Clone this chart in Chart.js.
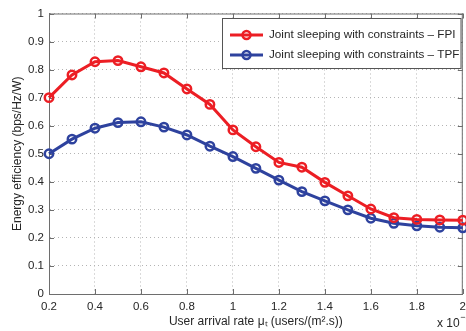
<!DOCTYPE html>
<html>
<head>
<meta charset="utf-8">
<title>Energy efficiency vs user arrival rate</title>
<script src="https://cdn.jsdelivr.net/npm/chart.js@4.4.1/dist/chart.umd.min.js"></script>
<style>
  html, body { margin: 0; padding: 0; background: #fff; overflow: hidden; width: 466px; height: 331px; }
  #wrap { width: 472px; height: 331px; }
</style>
</head>
<body>
<div id="wrap"><canvas id="c" width="472" height="331"></canvas></div>
<script>
// User arrival rate (x 10^-3 users/(m^2.s))
const arrivalRate = [0.2, 0.3, 0.4, 0.5, 0.6, 0.7, 0.8, 0.9, 1.0, 1.1, 1.2, 1.3, 1.4, 1.5, 1.6, 1.7, 1.8, 1.9, 2.0];
// Energy efficiency (bps/Hz/W)
const eeFPI = [0.700, 0.781, 0.828, 0.832, 0.810, 0.788, 0.731, 0.676, 0.585, 0.525, 0.469, 0.452, 0.398, 0.350, 0.303, 0.272, 0.266, 0.264, 0.263];
const eeTPF = [0.500, 0.552, 0.591, 0.611, 0.614, 0.595, 0.567, 0.527, 0.490, 0.448, 0.406, 0.365, 0.332, 0.300, 0.270, 0.252, 0.243, 0.238, 0.236];

const seriesNames = ['Joint sleeping with constraints \u2013 FPI', 'Joint sleeping with constraints \u2013 TPF'];
const seriesColors = ['rgb(236,30,36)', 'rgb(46,66,158)'];

const xTickValues = [0.2, 0.4, 0.6, 0.8, 1.0, 1.2, 1.4, 1.6, 1.8, 2.0];
const xTickLabels = ['0.2', '0.4', '0.6', '0.8', '1', '1.2', '1.4', '1.6', '1.8', '2'];
const yTickValues = [0, 0.1, 0.2, 0.3, 0.4, 0.5, 0.6, 0.7, 0.8, 0.9, 1.0];
const yTickLabels = ['0', '0.1', '0.2', '0.3', '0.4', '0.5', '0.6', '0.7', '0.8', '0.9', '1'];

const xTitle = 'User arrival rate \u03bc\u209c (users/(m\u00b2.s))';
const yTitle = 'Energy efficiency (bps/Hz/W)';

const FONT = "'Liberation Sans', Arial, Helvetica, sans-serif";
const TEXT = '#262626';
const AXIS = '#6e6e6e';

function toPoints(ys) {
  return ys.map((y, i) => ({ x: arrivalRate[i], y }));
}

// Inward tick marks on all four sides plus the top/right frame lines
const frameTicks = {
  id: 'frameTicks',
  beforeDatasetsDraw(chart) {
    const { ctx, chartArea: a, scales: { x, y } } = chart;
    const len = 5;
    ctx.save();
    ctx.strokeStyle = AXIS;
    ctx.lineWidth = 1;
    ctx.beginPath();
    ctx.moveTo(a.left, a.top + 0.5);
    ctx.lineTo(a.right, a.top + 0.5);
    ctx.moveTo(a.right - 0.5, a.top);
    ctx.lineTo(a.right - 0.5, a.bottom);
    xTickValues.forEach(v => {
      const px = Math.round(x.getPixelForValue(v)) + 0.5;
      ctx.moveTo(px, a.bottom); ctx.lineTo(px, a.bottom - len);
      ctx.moveTo(px, a.top); ctx.lineTo(px, a.top + len);
    });
    yTickValues.forEach(v => {
      const py = Math.round(y.getPixelForValue(v)) + 0.5;
      ctx.moveTo(a.left, py); ctx.lineTo(a.left + len, py);
      ctx.moveTo(a.right, py); ctx.lineTo(a.right - len, py);
    });
    ctx.stroke();
    ctx.restore();
  }
};

// Boxed legend with line + marker samples, and the axis multiplier
const boxLegend = {
  id: 'boxLegend',
  afterDraw(chart) {
    const { ctx } = chart;
    const bx = 222.5, by = 18.5, bw = 238.5, bh = 50;
    ctx.save();
    ctx.fillStyle = '#fff';
    ctx.fillRect(bx, by, bw, bh);
    ctx.strokeStyle = '#555';
    ctx.lineWidth = 1;
    ctx.strokeRect(bx, by, bw, bh);
    chart.data.datasets.forEach((ds, i) => {
      const cy = 35 + i * 20;
      ctx.strokeStyle = ds.borderColor;
      ctx.lineWidth = 3;
      ctx.beginPath();
      ctx.moveTo(230, cy); ctx.lineTo(263, cy);
      ctx.stroke();
      ctx.lineWidth = 2.5;
      ctx.beginPath();
      ctx.arc(246.5, cy, 4, 0, Math.PI * 2);
      ctx.stroke();
      ctx.fillStyle = TEXT;
      ctx.font = '11.7px ' + FONT;
      ctx.textBaseline = 'middle';
      ctx.textAlign = 'left';
      ctx.fillText(ds.label, 269, cy);
    });
    // x 10^-3 multiplier
    ctx.fillStyle = TEXT;
    ctx.textBaseline = 'alphabetic';
    ctx.font = '12px ' + FONT;
    ctx.fillText('x 10', 437, 327);
    const w = ctx.measureText('x 10').width;
    ctx.font = '9px ' + FONT;
    ctx.fillText('\u22123', 437 + w + 0.5, 320);
    ctx.restore();
  }
};

new Chart(document.getElementById('c'), {
  type: 'line',
  data: {
    datasets: [
      {
        label: seriesNames[0],
        data: toPoints(eeFPI),
        borderColor: seriesColors[0],
        backgroundColor: seriesColors[0],
        pointBorderColor: seriesColors[0],
        pointBackgroundColor: 'rgba(255,255,255,0)',
        borderWidth: 3,
        pointRadius: 4.2,
        pointBorderWidth: 2.5,
        tension: 0,
        clip: false
      },
      {
        label: seriesNames[1],
        data: toPoints(eeTPF),
        borderColor: seriesColors[1],
        backgroundColor: seriesColors[1],
        pointBorderColor: seriesColors[1],
        pointBackgroundColor: 'rgba(255,255,255,0)',
        borderWidth: 3,
        pointRadius: 4.2,
        pointBorderWidth: 2.5,
        tension: 0,
        clip: false
      }
    ]
  },
  options: {
    responsive: false,
    animation: false,
    devicePixelRatio: 1,
    layout: { padding: { top: 13.5, right: 4.5, left: 0, bottom: 0 } },
    plugins: { legend: { display: false }, tooltip: { enabled: false } },
    scales: {
      x: {
        type: 'linear',
        min: 0.2,
        max: 2.0,
        afterBuildTicks(scale) { scale.ticks = xTickValues.map(v => ({ value: v })); },
        afterFit(scale) { scale.height = 37; },
        ticks: {
          autoSkip: false,
          maxRotation: 0,
          padding: 6,
          color: TEXT,
          font: { family: FONT, size: 11.5 },
          callback: (v, i) => xTickLabels[i]
        },
        grid: { color: '#b4b4b4', lineWidth: 1, drawTicks: false },
        border: { display: true, color: AXIS, width: 1, dash: [1, 3] },
        title: {
          display: true,
          text: xTitle,
          color: TEXT,
          font: { family: FONT, size: 12 },
          padding: { top: 0, bottom: 2 }
        }
      },
      y: {
        type: 'linear',
        min: 0,
        max: 1,
        afterBuildTicks(scale) { scale.ticks = yTickValues.map(v => ({ value: v })); },
        afterFit(scale) { scale.width = 49; },
        ticks: {
          autoSkip: false,
          padding: 5,
          color: TEXT,
          font: { family: FONT, size: 11.5 },
          callback: (v, i) => yTickLabels[i]
        },
        grid: { color: '#b4b4b4', lineWidth: 1, drawTicks: false },
        border: { display: true, color: AXIS, width: 1, dash: [1, 3] },
        title: {
          display: true,
          text: yTitle,
          color: TEXT,
          font: { family: FONT, size: 12 },
          padding: { top: 10, bottom: 0 }
        }
      }
    }
  },
  plugins: [frameTicks, boxLegend]
});
</script>
</body>
</html>
